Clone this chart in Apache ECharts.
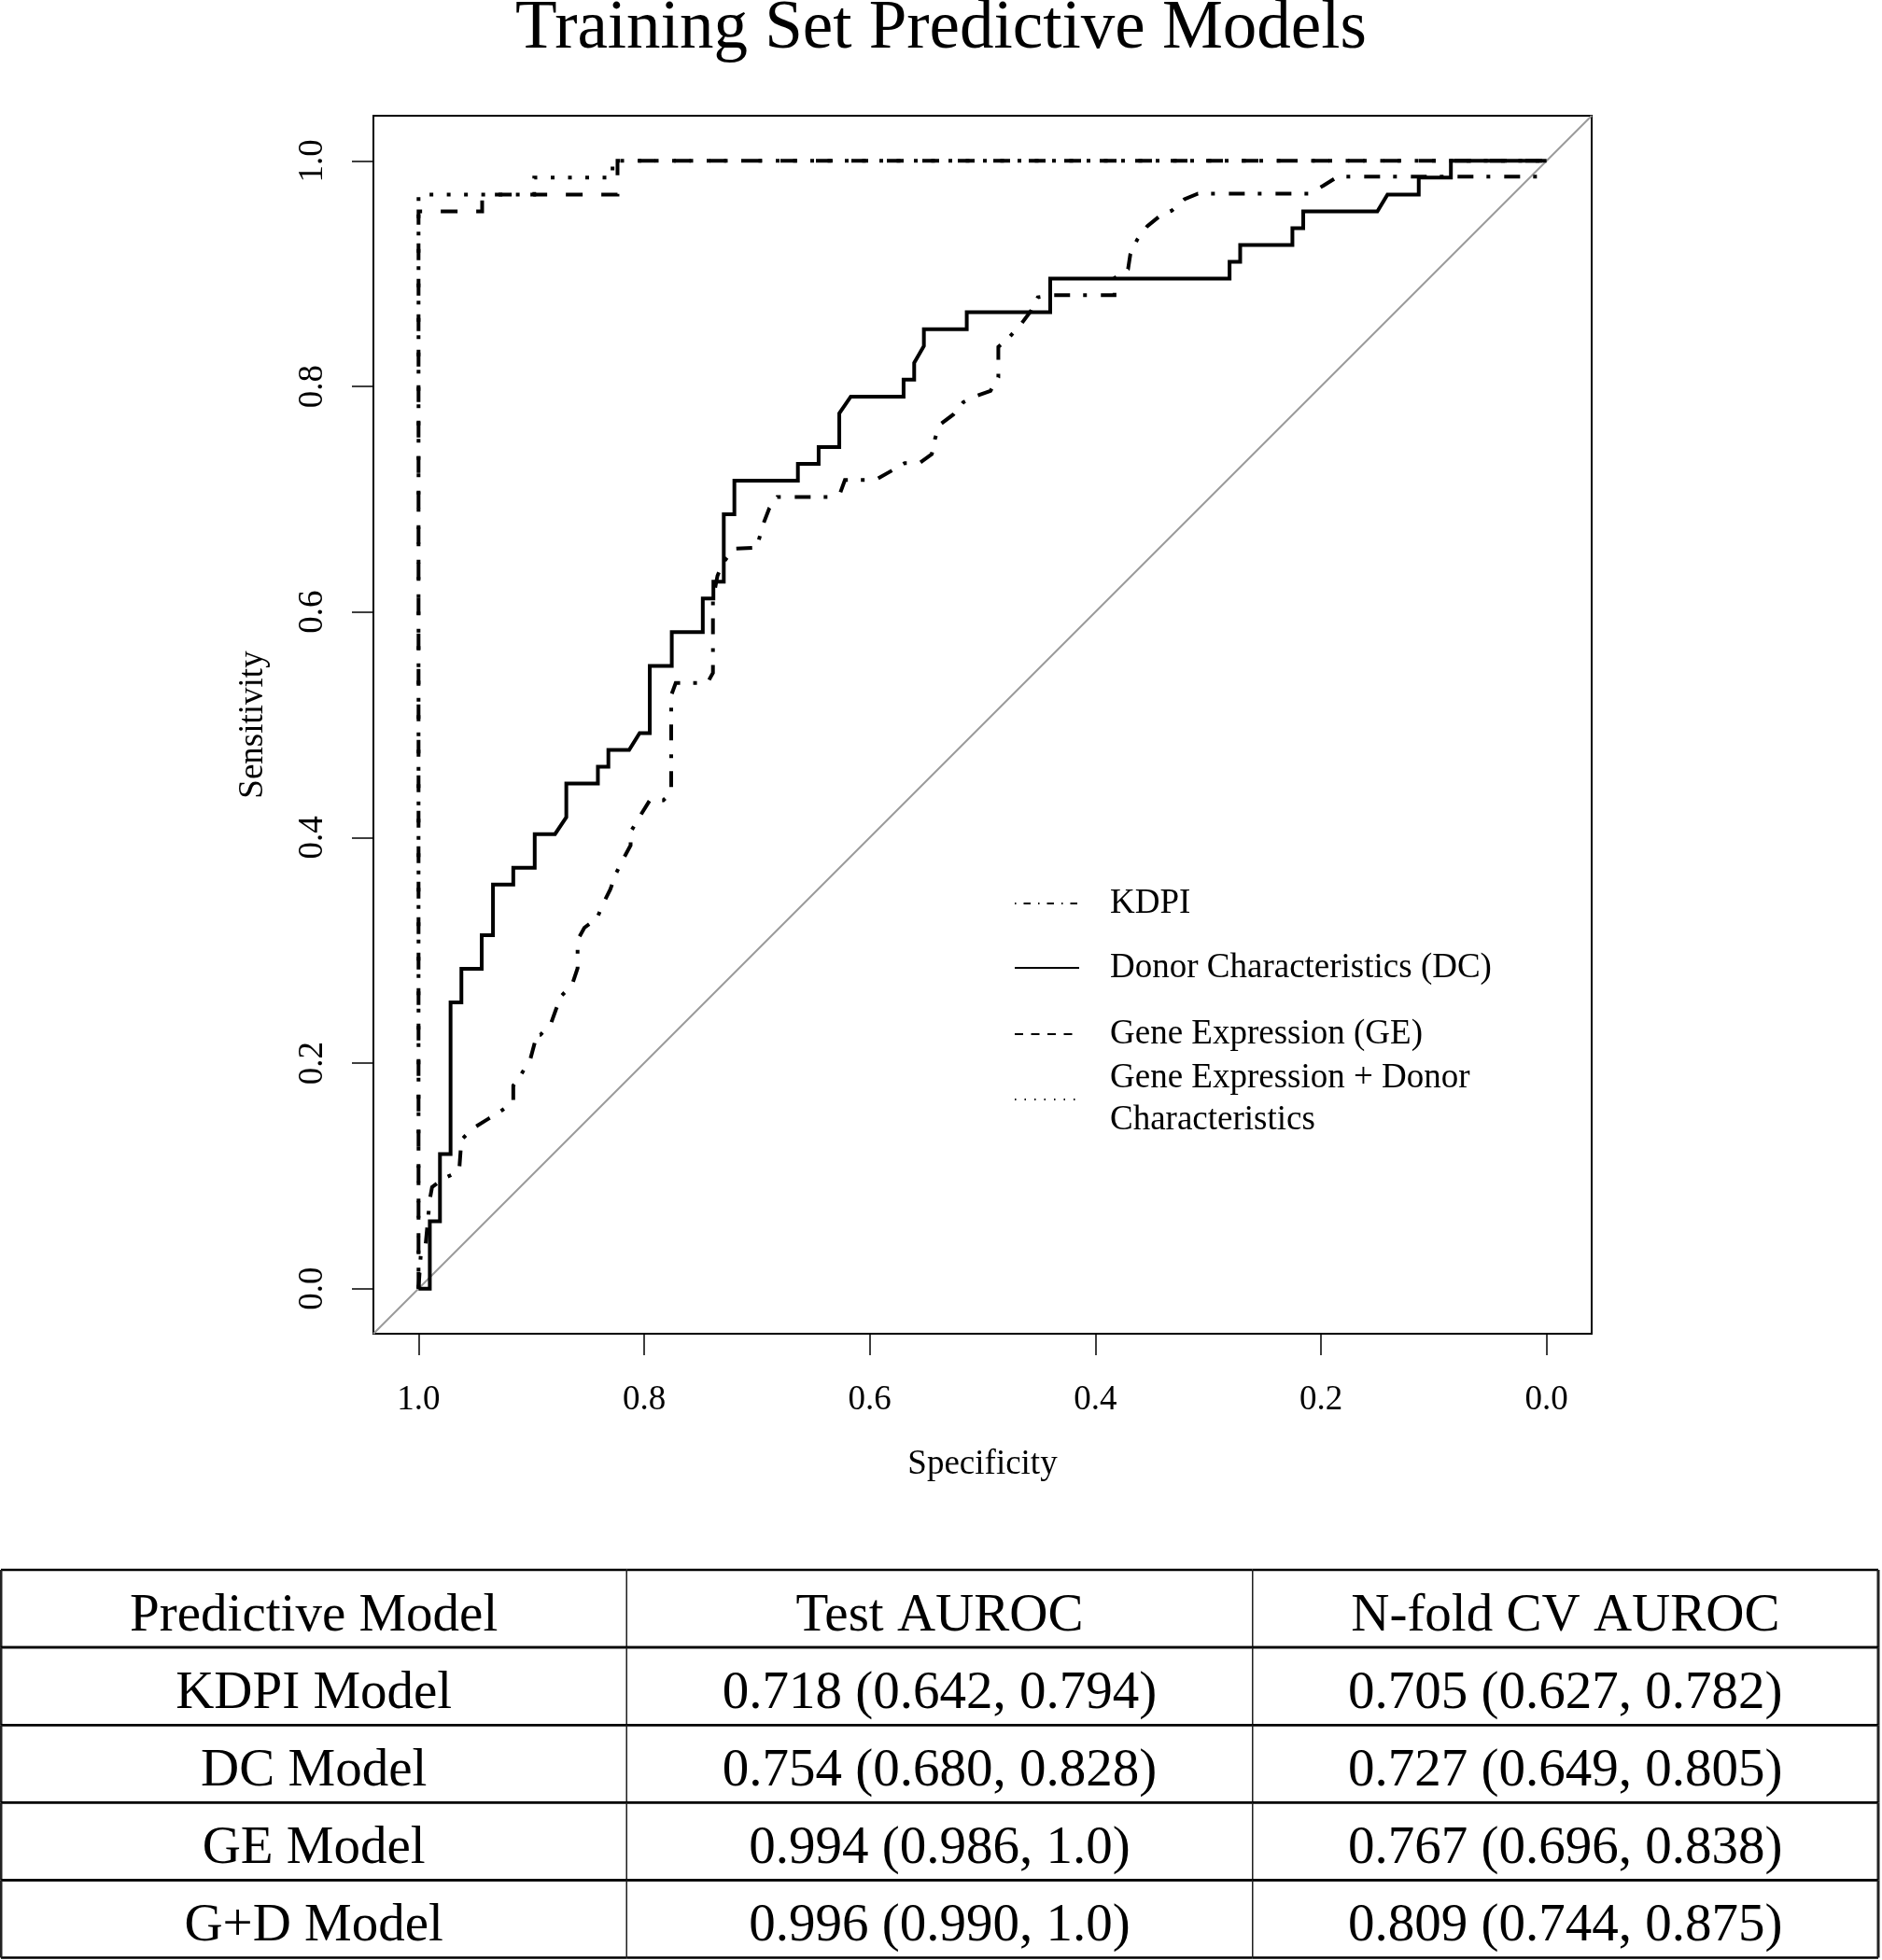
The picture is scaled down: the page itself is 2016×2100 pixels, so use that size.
<!DOCTYPE html>
<html><head><meta charset="utf-8">
<script src="https://cdn.jsdelivr.net/npm/echarts@6/dist/echarts.min.js"></script>
<style>html,body{margin:0;padding:0;background:#fff}#c{width:2016px;height:2100px}</style>
</head><body><div id="c"></div>
<script>
const FONT = 'Liberation Serif';
const chartTitle = 'Training Set Predictive Models';
const axisTickValues = [0, 0.2, 0.4, 0.6, 0.8, 1.0];

// KDPI (dot-dash)
const kdpiSpec = [1.0,0.998,0.994,0.990,0.988,0.977,0.964,0.962,0.952,0.939,0.929,0.916,0.916,0.909,0.901,0.897,0.897,0.892,0.883,0.878,0.873,0.864,0.859,0.859,0.853,0.842,0.836,0.830,0.825,0.819,0.812,0.812,0.803,0.795,0.783,0.776,0.776,0.772,0.744,0.739,0.739,0.735,0.731,0.721,0.700,0.698,0.694,0.689,0.682,0.637,0.626,0.622,0.595,0.581,0.569,0.556,0.545,0.542,0.538,0.526,0.517,0.507,0.493,0.486,0.486,0.476,0.466,0.457,0.451,0.438,0.383,0.383,0.371,0.369,0.363,0.354,0.343,0.332,0.321,0.309,0.210,0.198,0.185,0.0];
const kdpiSens = [0,0.030,0.036,0.079,0.090,0.098,0.104,0.132,0.142,0.150,0.156,0.165,0.180,0.190,0.203,0.218,0.225,0.225,0.234,0.248,0.260,0.269,0.284,0.309,0.320,0.328,0.342,0.354,0.368,0.380,0.393,0.405,0.420,0.433,0.433,0.440,0.526,0.537,0.537,0.546,0.611,0.632,0.642,0.656,0.657,0.665,0.679,0.692,0.702,0.702,0.706,0.717,0.717,0.725,0.732,0.732,0.740,0.754,0.766,0.775,0.786,0.791,0.796,0.808,0.835,0.844,0.855,0.867,0.879,0.881,0.881,0.896,0.904,0.917,0.930,0.942,0.951,0.956,0.966,0.971,0.971,0.978,0.986,0.986];

// Donor Characteristics (solid)
const dcSpec = [1.0,0.990,0.990,0.981,0.981,0.9716,0.9716,0.962,0.962,0.944,0.944,0.934,0.934,0.916,0.916,0.897,0.897,0.879,0.869,0.869,0.841,0.841,0.8317,0.8317,0.8133,0.804,0.795,0.795,0.7755,0.7755,0.748,0.748,0.7386,0.7386,0.7294,0.7294,0.720,0.720,0.6637,0.6637,0.6453,0.6453,0.627,0.627,0.6168,0.570,0.570,0.5606,0.5606,0.552,0.552,0.514,0.514,0.440,0.440,0.281,0.281,0.2716,0.2716,0.2253,0.2253,0.2157,0.2157,0.150,0.141,0.1133,0.1133,0.0848,0.0848,0.0];
const dcSens = [0,0,0.0597,0.0597,0.1194,0.1194,0.2537,0.2537,0.2836,0.2836,0.3134,0.3134,0.3582,0.3582,0.3731,0.3731,0.4030,0.4030,0.4179,0.4478,0.4478,0.4627,0.4627,0.4776,0.4776,0.4925,0.4925,0.5522,0.5522,0.5821,0.5821,0.6119,0.6119,0.6269,0.6269,0.6866,0.6866,0.7164,0.7164,0.7313,0.7313,0.7463,0.7463,0.7761,0.7910,0.7910,0.8060,0.8060,0.8209,0.8358,0.8507,0.8507,0.8657,0.8657,0.8955,0.8955,0.9104,0.9104,0.9254,0.9254,0.9403,0.9403,0.9552,0.9552,0.9701,0.9701,0.9851,0.9851,1.0,1.0];

// Gene Expression (dashed)
const geSpec = [1.0,1.0,0.9436,0.9436,0.8236,0.8236,0.0];
const geSens = [0,0.9552,0.9552,0.9701,0.9701,1.0,1.0];

// Gene Expression + Donor Characteristics (dotted)
const gdSpec = [1.0,1.0,0.8974,0.8974,0.828,0.828,0.0];
const gdSens = [0,0.9701,0.9701,0.9851,0.9851,1.0,1.0];

// Chance diagonal (spans the full axis extent)
const diagSpec = [1.04,-0.04];
const diagSens = [-0.04,1.04];

const seriesNames = ['KDPI','Donor Characteristics (DC)','Gene Expression (GE)','Gene Expression + Donor Characteristics'];
const legendLabels = ['KDPI','Donor Characteristics (DC)','Gene Expression (GE)','Gene Expression + Donor\nCharacteristics'];

const tableHeader = ['Predictive Model','Test AUROC','N-fold CV AUROC'];
const modelNames = ['KDPI Model','DC Model','GE Model','G+D Model'];
const testAuroc = ['0.718 (0.642, 0.794)','0.754 (0.680, 0.828)','0.994 (0.986, 1.0)','0.996 (0.990, 1.0)'];
const cvAuroc = ['0.705 (0.627, 0.782)','0.727 (0.649, 0.805)','0.767 (0.696, 0.838)','0.809 (0.744, 0.875)'];

function pairs(a, b) { return a.map((v, i) => [v, b[i]]); }

const tableRows = [tableHeader].concat(modelNames.map((m, i) => [m, testAuroc[i], cvAuroc[i]]));
const cellTexts = [];
const cellData = [];
tableRows.forEach((row, r) => row.forEach((txt, c) => { cellData.push([c, r]); cellTexts.push(txt); }));

const lineW = 4;
const styles = [
  {type: [17, 14, 4, 15], legendType: [1.5, 8, 7.5, 8]},
  {type: 'solid', legendType: 'solid'},
  {type: [18, 20], legendType: [9, 8.5]},
  {type: [4, 14.5], legendType: [1.5, 9]}
];
const curveData = [pairs(kdpiSpec, kdpiSens), pairs(dcSpec, dcSens), pairs(geSpec, geSens), pairs(gdSpec, gdSens)];
const legendCenters = [968, 1037, 1108, 1178];
const legendLines = [1, 1, 1, 2];
const LH = 45;

const chart = echarts.init(document.getElementById('c'), null, {renderer: 'canvas'});

const series = [{
  name: 'diag', type: 'line', xAxisIndex: 0, yAxisIndex: 0,
  data: pairs(diagSpec, diagSens), symbol: 'none', silent: true,
  lineStyle: {color: '#9a9a9a', width: 2}
}];
seriesNames.forEach((n, i) => series.push({
  name: n, type: 'line', xAxisIndex: 0, yAxisIndex: 0,
  data: curveData[i], symbol: 'none', showSymbol: false, silent: true,
  lineStyle: {color: '#000', width: lineW, type: styles[i].type, cap: 'butt', join: 'miter'}
}));
series.push({
  type: 'custom', coordinateSystem: 'cartesian2d', xAxisIndex: 1, yAxisIndex: 1,
  data: cellData, silent: true,
  renderItem: function (params, api) {
    const col = api.value(0), row = api.value(1);
    const c = api.coord([col, row]);
    const s = api.size([1, 1]);
    const x0 = c[0] - s[0] / 2, x1 = c[0] + s[0] / 2, y0 = c[1] - s[1] / 2, y1 = c[1] + s[1] / 2;
    return {type: 'group', children: [
      {type: 'line', shape: {x1: x0, y1: y0, x2: x1, y2: y0}, style: {stroke: '#000', lineWidth: 2.5}},
      {type: 'line', shape: {x1: x0, y1: y1, x2: x1, y2: y1}, style: {stroke: '#000', lineWidth: 2.5}},
      {type: 'line', shape: {x1: x0, y1: y0, x2: x0, y2: y1}, style: {stroke: '#222', lineWidth: col === 0 ? 3 : 1.3}},
      {type: 'line', shape: {x1: x1, y1: y0, x2: x1, y2: y1}, style: {stroke: '#222', lineWidth: col === 2 ? 3 : 1.3}},
      {type: 'text', x: c[0], y: c[1] + 8, style: {text: cellTexts[params.dataIndex], fontFamily: FONT, fontSize: 57, fill: '#000', align: 'center', verticalAlign: 'middle'}}
    ]};
  }
});

const legends = seriesNames.map((n, i) => ({
  data: [n], orient: 'vertical', left: 1086,
  top: legendCenters[i] - legendLines[i] * LH / 2,
  padding: 0, itemWidth: 69, itemHeight: 14, itemGap: 0, selectedMode: false,
  formatter: () => legendLabels[i],
  textStyle: {fontFamily: FONT, fontSize: 37, color: '#000', lineHeight: LH, padding: [0, 0, 0, 28]},
  itemStyle: {opacity: 0},
  lineStyle: {width: 2, color: '#000', type: styles[i].legendType, cap: 'butt'}
}));

const axisTextStyle = {fontFamily: FONT, fontSize: 37, color: '#000'};

chart.setOption({
  animation: false,
  backgroundColor: '#fff',
  title: {text: chartTitle, left: 'center', top: -5, padding: 0,
    textStyle: {fontFamily: FONT, fontSize: 73, fontWeight: 'normal', color: '#000'}},
  legend: legends,
  grid: [
    {left: 400, top: 124, width: 1305, height: 1305, show: true, borderColor: '#000', borderWidth: 2, containLabel: false, outerBoundsMode: 'none'},
    {left: 1, top: 1682, width: 2011, height: 415.5, show: false, containLabel: false, outerBoundsMode: 'none'}
  ],
  xAxis: [
    {type: 'value', gridIndex: 0, min: -0.04, max: 1.04, inverse: true,
      splitLine: {show: false}, axisLine: {show: false, onZero: false},
      axisTick: {show: true, inside: false, length: 23, customValues: axisTickValues, lineStyle: {color: '#000', width: 1.5}},
      axisLabel: Object.assign({show: true, customValues: axisTickValues, margin: 53, formatter: v => v.toFixed(1)}, axisTextStyle),
      name: 'Specificity', nameLocation: 'middle', nameGap: 122, nameTextStyle: axisTextStyle},
    {type: 'category', gridIndex: 1, data: ['0', '1', '2'], show: false}
  ],
  yAxis: [
    {type: 'value', gridIndex: 0, min: -0.04, max: 1.04,
      splitLine: {show: false}, axisLine: {show: false, onZero: false},
      axisTick: {show: true, inside: false, length: 23, customValues: axisTickValues, lineStyle: {color: '#000', width: 1.5}},
      axisLabel: Object.assign({show: true, customValues: axisTickValues, margin: 46, rotate: 90, formatter: v => v.toFixed(1)}, axisTextStyle),
      name: 'Sensitivity', nameLocation: 'middle', nameGap: 110, nameTextStyle: axisTextStyle},
    {type: 'category', gridIndex: 1, data: ['0', '1', '2', '3', '4'], inverse: true, show: false}
  ],
  series: series
});
</script></body></html>
